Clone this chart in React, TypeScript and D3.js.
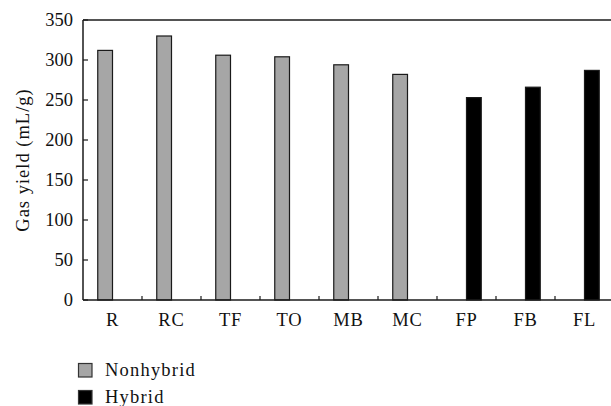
import React from "react";
import * as d3 from "d3";

const categories = ["R", "RC", "TF", "TO", "MB", "MC", "FP", "FB", "FL"];
const seriesNames = ["Nonhybrid", "Hybrid"];
const nonhybridValues: (number | null)[] = [312, 330, 306, 304, 294, 282, null, null, null];
const hybridValues: (number | null)[] = [null, null, null, null, null, null, 253, 266, 287];
const yTicks = [0, 50, 100, 150, 200, 250, 300, 350];
const seriesColors = ["#a6a6a6", "#000000"];

const W = 611;
const H = 406;
const left = 83;
const top = 20;
const bottom = 300;
const step = 59;
const font = "'Liberation Serif', 'Times New Roman', serif";
const fs = 18.5;

export default function App() {
  const x = d3.scaleBand<string>().domain(categories).range([left, left + step * categories.length]).padding(0);
  const xs = d3.scaleBand<string>().domain(seriesNames).range([0, x.bandwidth()]).paddingInner(0).paddingOuter(1);
  const y = d3.scaleLinear().domain([0, 350]).range([bottom, top]);
  const allSeries = [nonhybridValues, hybridValues];
  const axisColor = "#1a1a1a";

  return (
    <svg width={W} height={H} style={{ position: "absolute", left: 0, top: 0, background: "#fff" }}>
      {allSeries.map((vals, si) =>
        vals.map((v, i) =>
          v == null ? null : (
            <rect
              key={`${si}-${i}`}
              x={(x(categories[i]) as number) + (xs(seriesNames[si]) as number)}
              y={y(v)}
              width={xs.bandwidth()}
              height={y(0) - y(v)}
              fill={seriesColors[si]}
              stroke="#1a1a1a"
              strokeWidth={1.2}
            />
          )
        )
      )}
      <line x1={left} x2={W} y1={top} y2={top} stroke={axisColor} strokeWidth={1.5} />
      <line x1={left} x2={left} y1={top} y2={bottom} stroke={axisColor} strokeWidth={1.5} />
      <line x1={left} x2={W} y1={bottom} y2={bottom} stroke={axisColor} strokeWidth={1.5} />
      {yTicks.map((t) => (
        <g key={t}>
          <line x1={left} x2={left + 5} y1={y(t)} y2={y(t)} stroke={axisColor} strokeWidth={1.2} />
          <text x={73} y={y(t)} dy="0.35em" textAnchor="end" fontFamily={font} fontSize={fs} fill="#111">
            {t}
          </text>
        </g>
      ))}
      {categories.slice(1).map((c) => (
        <line key={c} x1={x(c) as number} x2={x(c) as number} y1={bottom} y2={bottom - 4} stroke={axisColor} strokeWidth={1.2} />
      ))}
      {categories.map((c) => (
        <text
          key={c}
          x={(x(c) as number) + x.bandwidth() / 2}
          y={326}
          textAnchor="middle"
          fontFamily={font}
          fontSize={fs}
          letterSpacing={0.8}
          fill="#111"
        >
          {c}
        </text>
      ))}
      <text
        transform={`translate(29,${(top + bottom) / 2}) rotate(-90)`}
        textAnchor="middle"
        fontFamily={font}
        fontSize={fs}
        letterSpacing={1}
        fill="#111"
      >
        Gas yield (mL/g)
      </text>
      {seriesNames.map((s, i) => (
        <g key={s} transform={`translate(78,${363 + i * 27})`}>
          <rect x={0.5} y={0.5} width={13.5} height={13.5} fill={seriesColors[i]} stroke="#333" strokeWidth={1.2} />
          <text x={27} y={12.5} fontFamily={font} fontSize={fs} letterSpacing={1.2} fill="#111">
            {s}
          </text>
        </g>
      ))}
    </svg>
  );
}
